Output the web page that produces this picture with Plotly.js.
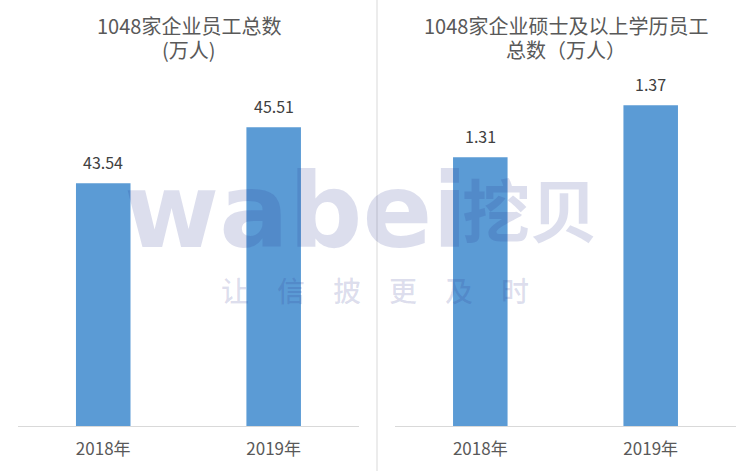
<!DOCTYPE html>
<html><head><meta charset="utf-8">
<script src="https://cdn.plot.ly/plotly-3.0.1.min.js"></script>
<style>html,body{margin:0;padding:0;background:#fff;}#chart{width:754px;height:471px;}</style>
</head><body><div id="chart"></div>
<script>
const categories = ['2018年', '2019年'];
const employeesTotal = [43.54, 45.51];
const mastersTotal = [1.31, 1.37];
const titleLeftLines = ['1048家企业员工总数', '(万人)'];
const titleRightLines = ['1048家企业硕士及以上学历员工', '总数（万人）'];

const FONT = '"Noto Sans CJK SC", "Noto Sans", sans-serif';
const barColor = '#5b9bd5';
const WM = 'rgba(40,50,140,0.16)';

const traces = [
  {type:'bar', x: categories, y: employeesTotal, xaxis:'x', yaxis:'y',
   marker:{color:barColor}, width:0.32, hoverinfo:'skip'},
  {type:'bar', x: categories, y: mastersTotal, xaxis:'x2', yaxis:'y2',
   marker:{color:barColor}, width:0.32, hoverinfo:'skip'}
];

const axX = {showgrid:false, zeroline:false, showline:true, linecolor:'#d9d9d9', linewidth:1,
  ticks:'', ticklabelstandoff:8, tickfont:{family:FONT, size:17, color:'#595959'}, fixedrange:true};
const axY = {visible:false, showgrid:false, zeroline:false, fixedrange:true};

function labels(xs, ys, xr, yr) {
  return xs.map((c, i) => ({xref:xr, yref:yr, x:c, y:ys[i], yshift:21, yanchor:'middle', xanchor:'center',
    showarrow:false, text: ys[i].toFixed(2), font:{family:FONT, size:16, color:'#404040'}}));
}
function titleLines(lines, xc) {
  const ys = [26, 50];
  return lines.map((t, i) => ({xref:'paper', yref:'paper', x:xc, y:1-ys[i]/471, yanchor:'middle', xanchor:'center',
    showarrow:false, text:t, font:{family:FONT, size:20, color:'#595959'}}));
}

const layout = {
  width:754, height:471, margin:{l:0,r:0,t:0,b:0},
  paper_bgcolor:'#fff', plot_bgcolor:'rgba(0,0,0,0)', showlegend:false,
  font:{family:FONT},
  xaxis: Object.assign({}, axX, {domain:[0.0239, 0.476], anchor:'y'}),
  xaxis2: Object.assign({}, axX, {domain:[0.524, 0.976], anchor:'y2'}),
  yaxis: Object.assign({}, axY, {domain:[0.0955, 0.82], range:[35, 47], anchor:'x'}),
  yaxis2: Object.assign({}, axY, {domain:[0.0955, 0.82], range:[1.0, 1.3935], anchor:'x2'}),
  shapes:[
    {type:'line', xref:'paper', yref:'paper', x0:0.5, x1:0.5, y0:0, y1:1,
     line:{color:'#d9d9d9', width:1}}
  ],
  annotations:[
    {xref:'paper', yref:'paper', x:296/754, y:1-211/471, xanchor:'center', yanchor:'middle', showarrow:false,
     text:'<b>wabei</b>', font:{family:'"DejaVu Sans", "Liberation Sans", sans-serif', size:103, color:WM}},
    {xref:'paper', yref:'paper', x:530/754, y:1-207/471, xanchor:'center', yanchor:'middle', showarrow:false,
     text:'<b>挖贝</b>', font:{family:FONT, size:68, color:WM}},
    {xref:'paper', yref:'paper', x:375/754, y:1-290/471, xanchor:'center', yanchor:'middle', showarrow:false,
     text:'让　信　披　更　及　时', font:{family:FONT, size:28, weight:500, color:WM}}
  ].concat(titleLines(titleLeftLines, 0.25), titleLines(titleRightLines, 0.75),
           labels(categories, employeesTotal, 'x', 'y'), labels(categories, mastersTotal, 'x2', 'y2'))
};

Plotly.newPlot('chart', traces, layout, {staticPlot:true, displayModeBar:false});
</script>
</body></html>
